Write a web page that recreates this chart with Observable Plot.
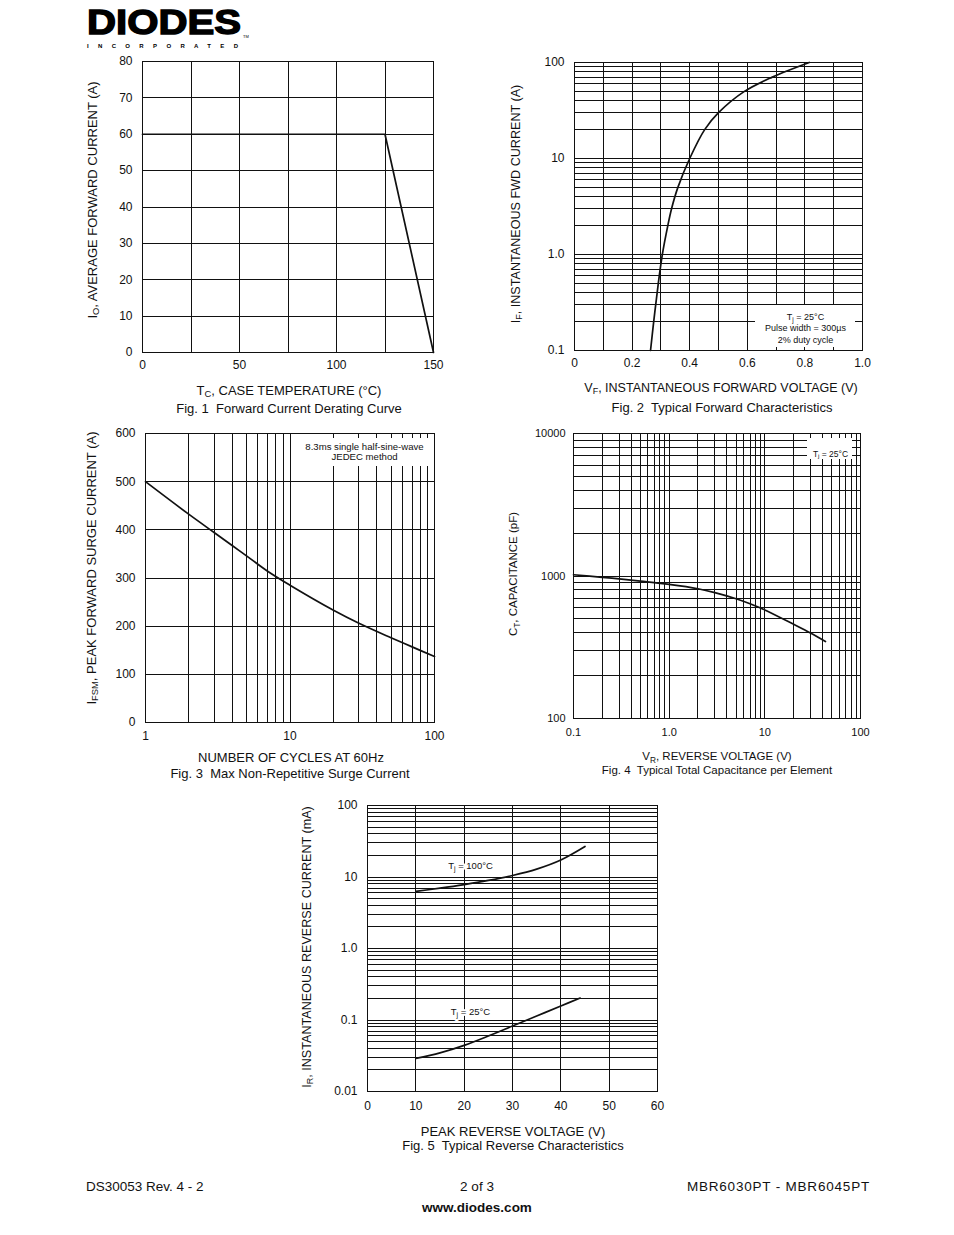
<!DOCTYPE html>
<html><head><meta charset="utf-8">
<script src="https://cdn.jsdelivr.net/npm/d3@7"></script>
<script src="https://cdn.jsdelivr.net/npm/@observablehq/plot@0.6"></script>
<style>
html,body{margin:0;padding:0;background:#fff;}
#page{position:relative;width:954px;height:1235px;overflow:hidden;font-family:"Liberation Sans",Arial,Helvetica,sans-serif;color:#111;}
.t{position:absolute;white-space:nowrap;line-height:1;transform:translate(-50%,-50%);}
.t.rot{transform:translate(-50%,-50%) rotate(-90deg);}
.t sub{font-size:0.72em;vertical-align:-0.3em;line-height:0;}
.l{position:absolute;white-space:nowrap;line-height:1;transform:translateY(-50%);}
.r{position:absolute;white-space:nowrap;line-height:1;transform:translate(-100%,-50%);}
svg.fig{position:absolute;overflow:visible;}
</style></head><body><div id="page"></div>
<script>
// ---------- DATA ----------
// Fig. 1 Forward Current Derating Curve
const fig1Temp = [0, 125, 150];
const fig1Current = [60, 60, 0];
const fig1XTicks = [0, 50, 100, 150];
const fig1YTicks = [0, 10, 20, 30, 40, 50, 60, 70, 80];

// Fig. 2 Typical Forward Characteristics
const fig2Voltage = [0.264, 0.275, 0.282, 0.291, 0.305, 0.324, 0.337, 0.359, 0.400, 0.452, 0.500, 0.590, 0.685, 0.815];
const fig2Current = [0.1, 0.2, 0.3, 0.5, 1.0, 2, 3, 5, 10, 20, 30, 50, 70, 100];
const fig2XTicks = [0, 0.2, 0.4, 0.6, 0.8, 1.0];
const fig2XTickLabels = ["0", "0.2", "0.4", "0.6", "0.8", "1.0"];
const fig2YTicks = [0.1, 1, 10, 100];
const fig2YTickLabels = ["0.1", "1.0", "10", "100"];
const fig2Note = "Tj = 25°C\nPulse width = 300µs\n2% duty cycle";

// Fig. 3 Max Non-Repetitive Surge Current
const fig3Cycles = [1, 2, 3, 4, 5, 7, 10, 20, 30, 50, 70, 100];
const fig3Current = [500, 432, 394, 367, 346, 314, 285, 233, 206, 176, 157, 137];
const fig3XTicks = [1, 10, 100];
const fig3XTickLabels = ["1", "10", "100"];
const fig3YTicks = [0, 100, 200, 300, 400, 500, 600];
const fig3Note = "8.3ms single half-sine-wave\nJEDEC method";

// Fig. 4 Typical Total Capacitance per Element
const fig4Voltage = [0.1, 0.2, 0.3, 0.5, 1, 2, 3, 5, 7, 10, 20, 30, 43];
const fig4Capacitance = [1020, 979, 954, 920, 873, 814, 765, 693, 639, 578, 458, 398, 347];
const fig4XTicks = [0.1, 1, 10, 100];
const fig4XTickLabels = ["0.1", "1.0", "10", "100"];
const fig4YTicks = [100, 1000, 10000];
const fig4YTickLabels = ["100", "1000", "10000"];
const fig4Note = "Tj = 25°C";

// Fig. 5 Typical Reverse Characteristics
const fig5Voltage100 = [10, 15, 20, 25, 30, 35, 40, 45];
const fig5Current100 = [6.3, 6.98, 7.83, 8.95, 10.5, 12.9, 17.3, 26.7];
const fig5Voltage25 = [10, 15, 20, 25, 30, 35, 40, 44];
const fig5Current25 = [0.029, 0.0347, 0.0442, 0.0596, 0.0822, 0.1135, 0.157, 0.203];
const fig5XTicks = [0, 10, 20, 30, 40, 50, 60];
const fig5YTicks = [0.01, 0.1, 1, 10, 100];
const fig5YTickLabels = ["0.01", "0.1", "1.0", "10", "100"];
const fig5Note100 = "Tj = 100°C";
const fig5Note25 = "Tj = 25°C";

// ---------- HELPERS ----------
const page = document.getElementById("page");
const NS = "http://www.w3.org/2000/svg";
const INK = "#111";

function logGrid(lo, hi) {
  const out = [];
  for (let e = Math.floor(Math.log10(lo) + 1e-9); Math.pow(10, e) <= hi * 1.0001; e++)
    for (let k = 1; k < 10; k++) {
      const v = +(k * Math.pow(10, e)).toPrecision(6);
      if (v >= lo * 0.9999 && v <= hi * 1.0001) out.push(v);
    }
  return out;
}
function linGrid(lo, hi, step) { return d3.range(lo, hi + step / 2, step).map(v => +v.toPrecision(6)); }
function fmt(ticks, labels) { return d => labels[ticks.findIndex(t => Math.abs(t - d) < 1e-9 * Math.max(1, Math.abs(t)))]; }
function table(xs, ys) { return xs.map((x, i) => ({x, y: ys[i]})); }

// white annotation box, placed in frame layout coordinates
function noteBox(right, top, w, h) {
  return (index, scales, values, dims) => {
    const r = document.createElementNS(NS, "rect");
    r.setAttribute("x", dims.width - dims.marginRight - right - w);
    r.setAttribute("y", dims.marginTop + top);
    r.setAttribute("width", w);
    r.setAttribute("height", h);
    r.setAttribute("fill", "white");
    return r;
  };
}

function subscriptify(svg) {
  svg.querySelectorAll("text, tspan").forEach(el => {
    if (el.childElementCount) return;
    const s = el.textContent;
    if (!s.startsWith("Tj")) return;
    el.textContent = "T";
    const sub = document.createElementNS(NS, "tspan");
    sub.setAttribute("dy", "0.3em"); sub.setAttribute("font-size", "0.72em"); sub.textContent = "j";
    const rest = document.createElementNS(NS, "tspan");
    rest.setAttribute("dy", "-0.22em"); rest.textContent = s.slice(2);
    el.appendChild(sub); el.appendChild(rest);
  });
}

function figure({frame, x, y, marks, fontSize = 12, xPad = 8, yPad = 10}) {
  const [fx0, fy0, fx1, fy1] = frame;
  const m = {left: 55, right: 25, top: 10, bottom: 30};
  const svg = Plot.plot({
    width: fx1 - fx0 + m.left + m.right,
    height: fy1 - fy0 + m.top + m.bottom,
    marginLeft: m.left, marginRight: m.right, marginTop: m.top, marginBottom: m.bottom,
    x: {...x, tickSize: 0, tickPadding: xPad, label: null},
    y: {...y, tickSize: 0, tickPadding: yPad, label: null},
    style: {background: "none", fontFamily: "'Liberation Sans', Arial, sans-serif", fontSize: fontSize + "px", color: INK, overflow: "visible"},
    marks
  });
  svg.classList.add("fig");
  svg.style.left = (fx0 - m.left) + "px";
  svg.style.top = (fy0 - m.top) + "px";
  subscriptify(svg);
  page.appendChild(svg);
  return svg;
}

function text(html, cx, cy, size, cls = "t", extra = "") {
  const d = document.createElement("div");
  d.className = cls;
  d.style.cssText = `left:${cx}px;top:${cy}px;font-size:${size}px;${extra}`;
  d.innerHTML = html;
  page.appendChild(d);
  return d;
}

const gridStyle = {stroke: INK, strokeWidth: 1, shapeRendering: "crispEdges"};
const curveStyle = {x: "x", y: "y", stroke: INK, strokeWidth: 1.7, curve: "catmull-rom"};

// ---------- LOGO ----------
(function logo() {
  const s = document.createElementNS(NS, "svg");
  s.setAttribute("width", 300); s.setAttribute("height", 52);
  s.style.cssText = "position:absolute;left:0;top:0;";
  s.innerHTML = `
    <text x="87" y="33.5" font-family="'Liberation Sans', Arial, sans-serif" font-weight="bold" font-size="35" textLength="154" lengthAdjust="spacingAndGlyphs" fill="#000" stroke="#000" stroke-width="1.4">DIODES</text>
    <text x="87" y="47.5" font-family="'Liberation Sans', Arial, sans-serif" font-weight="bold" font-size="6" textLength="151" lengthAdjust="spacing" fill="#000">INCORPORATED</text>
    <text x="243" y="38" font-family="'Liberation Sans', Arial, sans-serif" font-size="4" fill="#000">TM</text>`;
  page.appendChild(s);
})();

// ---------- FIG 1 ----------
figure({
  frame: [142, 61, 433, 352],
  x: {domain: [0, 150], ticks: fig1XTicks},
  y: {domain: [0, 80], ticks: fig1YTicks},
  xPad: 8, yPad: 10,
  marks: [
    Plot.ruleX(linGrid(0, 150, 25), gridStyle),
    Plot.ruleY(linGrid(0, 80, 10), gridStyle),
    Plot.frame({stroke: INK, shapeRendering: "crispEdges"}),
    Plot.line(table(fig1Temp, fig1Current), {...curveStyle, curve: "linear"})
  ]
});
text("I<sub>O</sub>, AVERAGE FORWARD CURRENT (A)", 92, 200, 13, "t rot");
text("T<sub>C</sub>, CASE TEMPERATURE (°C)", 289, 390, 13);
text("Fig. 1&nbsp; Forward Current Derating Curve", 289, 408, 13);

// ---------- FIG 2 ----------
figure({
  frame: [574, 62, 862, 350],
  x: {domain: [0, 1], ticks: fig2XTicks, tickFormat: fmt(fig2XTicks, fig2XTickLabels)},
  y: {type: "log", domain: [0.1, 100], ticks: fig2YTicks, tickFormat: fmt(fig2YTicks, fig2YTickLabels)},
  xPad: 8, yPad: 10,
  marks: [
    Plot.ruleX(linGrid(0, 1, 0.1), gridStyle),
    Plot.ruleY(logGrid(0.1, 100), gridStyle),
    noteBox(7, 243, 100, 42),
    Plot.frame({stroke: INK, shapeRendering: "crispEdges"}),
    Plot.line(table(fig2Voltage, fig2Current), curveStyle),
    Plot.text([fig2Note], {frameAnchor: "bottom-right", dx: -57, dy: -23, textAnchor: "middle", lineAnchor: "middle", fontSize: 9, lineHeight: 1.3, fill: INK})
  ]
});
text("I<sub>F</sub>, INSTANTANEOUS FWD CURRENT (A)", 516, 204, 12.6, "t rot");
text("V<sub>F</sub>, INSTANTANEOUS FORWARD VOLTAGE (V)", 721, 388, 12.5);
text("Fig. 2&nbsp; Typical Forward Characteristics", 722, 407, 13);

// ---------- FIG 3 ----------
figure({
  frame: [145, 433, 434, 722],
  x: {type: "log", domain: [1, 100], ticks: fig3XTicks, tickFormat: fmt(fig3XTicks, fig3XTickLabels)},
  y: {domain: [0, 600], ticks: fig3YTicks},
  xPad: 9, yPad: 10,
  marks: [
    Plot.ruleX(logGrid(1, 100), gridStyle),
    Plot.ruleY(linGrid(0, 600, 100), gridStyle),
    noteBox(3, 5, 133, 28),
    Plot.frame({stroke: INK, shapeRendering: "crispEdges"}),
    Plot.line(table(fig3Cycles, fig3Current), curveStyle),
    Plot.text([fig3Note], {frameAnchor: "top-right", dx: -70, dy: 18, textAnchor: "middle", lineAnchor: "middle", fontSize: 9.6, lineHeight: 1.05, fill: INK})
  ]
});
text("I<sub>FSM</sub>, PEAK FORWARD SURGE CURRENT (A)", 91, 568, 13, "t rot");
text("NUMBER OF CYCLES AT 60Hz", 291, 757, 13);
text("Fig. 3&nbsp; Max Non-Repetitive Surge Current", 290, 773, 13);

// ---------- FIG 4 ----------
figure({
  frame: [573, 433, 860, 718],
  x: {type: "log", domain: [0.1, 100], ticks: fig4XTicks, tickFormat: fmt(fig4XTicks, fig4XTickLabels)},
  y: {type: "log", domain: [100, 10000], ticks: fig4YTicks, tickFormat: fmt(fig4YTicks, fig4YTickLabels)},
  fontSize: 11, xPad: 10, yPad: 8,
  marks: [
    Plot.ruleX(logGrid(0.1, 100), gridStyle),
    Plot.ruleY(logGrid(100, 10000), gridStyle),
    noteBox(8, 5, 45, 21),
    Plot.frame({stroke: INK, shapeRendering: "crispEdges"}),
    Plot.line(table(fig4Voltage, fig4Capacitance), curveStyle),
    Plot.text([fig4Note], {frameAnchor: "top-right", dx: -30, dy: 17, textAnchor: "middle", fontSize: 8.5, fill: INK})
  ]
});
text("C<sub>T</sub>, CAPACITANCE (pF)", 514, 574, 11.5, "t rot");
text("V<sub>R</sub>, REVERSE VOLTAGE (V)", 717, 757, 11.5);
text("Fig. 4&nbsp; Typical Total Capacitance per Element", 717, 771, 11.5);

// ---------- FIG 5 ----------
figure({
  frame: [367, 805, 657, 1091],
  x: {domain: [0, 60], ticks: fig5XTicks},
  y: {type: "log", domain: [0.01, 100], ticks: fig5YTicks, tickFormat: fmt(fig5YTicks, fig5YTickLabels)},
  xPad: 10, yPad: 10,
  marks: [
    Plot.ruleX(linGrid(0, 60, 10), gridStyle),
    Plot.ruleY(logGrid(0.01, 100), gridStyle),
    Plot.frame({stroke: INK, shapeRendering: "crispEdges"}),
    Plot.line(table(fig5Voltage100, fig5Current100), curveStyle),
    Plot.line(table(fig5Voltage25, fig5Current25), curveStyle),
    Plot.text([fig5Note100], {frameAnchor: "top-left", dx: 103, dy: 57, textAnchor: "middle", fontSize: 9.5, fill: INK, stroke: "white", strokeWidth: 4}),
    Plot.text([fig5Note25], {frameAnchor: "top-left", dx: 103, dy: 203, textAnchor: "middle", fontSize: 9.5, fill: INK, stroke: "white", strokeWidth: 4})
  ]
});
text("I<sub>R</sub>, INSTANTANEOUS REVERSE CURRENT (mA)", 307, 947, 12.6, "t rot");
text("PEAK REVERSE VOLTAGE (V)", 513, 1131, 13);
text("Fig. 5&nbsp; Typical Reverse Characteristics", 513, 1145, 13);

// ---------- FOOTER ----------
text("DS30053 Rev. 4 - 2", 86, 1187, 13.5, "l");
text("2 of 3", 477, 1187, 13.5);
text("MBR6030PT - MBR6045PT", 870, 1187, 13.5, "r", "letter-spacing:0.8px;");
text("www.diodes.com", 477, 1208, 13.5, "t", "font-weight:bold;");
</script></body></html>
